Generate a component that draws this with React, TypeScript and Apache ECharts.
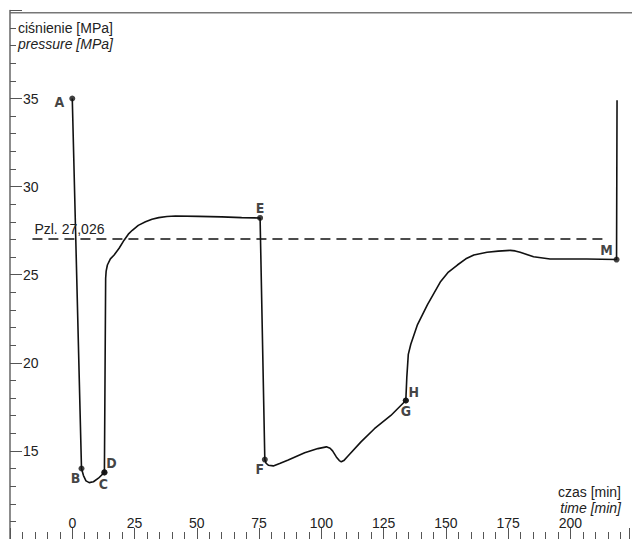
import React, { useEffect, useRef } from "react";
import * as echarts from "echarts";

// time [min]
const times = [
  0, 3.7, 4.5, 5.5, 6.8, 8.5, 10.5, 12.9, 13.4, 13.6, 14.1, 15.3, 16.8, 18.8, 20.8, 22.5, 24.1, 26.5,
  29.4, 32, 34.7, 38, 41.4, 50.7, 60.0, 68.0, 75.4, 77.3, 77.8, 78.7, 80.7, 83.5, 86.7, 93.3, 98.6, 102.0,
  103.5, 104.5, 106.0, 107.2, 108.0, 109.0, 110.6, 115.9, 121.3, 127.9, 133.9, 134.3, 134.9, 135.9, 138.6,
  142.6, 147.9, 151.0, 154.6, 158.0, 161.2, 166.5, 171.0, 175.8, 177.8, 179.8, 185.2, 191.8, 206.5, 218.5,
  218.7,
];
// pressure [MPa]
const pressures = [
  35.0, 14.0, 13.6, 13.3, 13.2, 13.25, 13.45, 13.78, 24.8, 25.2, 25.55, 25.9, 26.12, 26.5, 26.96,
  27.3, 27.52, 27.8, 28.0, 28.15, 28.24, 28.3, 28.33, 28.31, 28.28, 28.24, 28.22, 14.51, 14.3, 14.19,
  14.15, 14.3, 14.48, 14.89, 15.13, 15.23, 15.15, 15.0, 14.66, 14.45, 14.38, 14.45, 14.7, 15.51, 16.26,
  17.01, 17.86, 19.17, 20.48, 21.05, 22.17, 23.3, 24.62, 25.15, 25.55, 25.9, 26.12, 26.27, 26.34, 26.38,
  26.35, 26.27, 26.02, 25.89, 25.89, 25.86, 34.9,
];

// marked points
const pointNames = ["A", "B", "C", "D", "E", "F", "G", "H", "M"];
const pointTimes = [0, 3.7, 12.9, 12.9, 75.4, 77.3, 133.9, 133.9, 218.5];
const pointValues = [35.0, 14.0, 13.78, 13.78, 28.22, 14.51, 17.86, 17.86, 25.86];

// reference level
const refLevel = 27.026;
const refLabel = "Pzl. 27,026";
const refStart = -16;
const refEnd = 214.5;

const xMin = -25;
const xMax = 223.5;
const xInterval = 25;
const yMin = 10;
const yMax = 40;
const yInterval = 5;

const yTitle = ["ciśnienie [MPa]", "pressure [MPa]"];
const xTitle = ["czas [min]", "time [min]"];

const labelOffsets: Record<string, [number, number]> = {
  A: [-13, 3],
  B: [-6, 9],
  C: [-1, 11.5],
  D: [7, -9],
  E: [0, -10],
  F: [-5, 9],
  G: [0, 10],
  H: [8, -9],
  M: [-10, -9.5],
};

const FONT = "'Liberation Sans', Arial, sans-serif";
const BOLD_FONT = "'Liberation Sans Narrow', 'DejaVu Sans Condensed', 'Liberation Sans', sans-serif";

export default function App() {
  const ref = useRef<HTMLDivElement>(null);
  useEffect(() => {
    if (!ref.current) return;
    const chart = echarts.init(ref.current, null, { renderer: "svg" });
    const lineData = times.map((t, i) => [t, pressures[i]]);
    const pts = pointNames.map((n, i) => ({
      name: n,
      value: [pointTimes[i], pointValues[i]],
      label: {
        show: true,
        formatter: n,
        position: "inside",
        offset: labelOffsets[n],
      },
    }));
    chart.setOption({
      animation: false,
      backgroundColor: "#fff",
      grid: { left: 10, right: 0, top: 10.4, bottom: -3, containLabel: false },
      xAxis: {
        type: "value",
        min: xMin,
        max: xMax,
        interval: xInterval,
        axisLine: { show: false, onZero: false },
        splitLine: { show: false },
        axisTick: { show: true, inside: true, length: 11, lineStyle: { color: "#555", width: 1 } },
        minorTick: { show: true, splitNumber: 5, length: 7, lineStyle: { color: "#555", width: 1 } },
        axisLabel: {
          inside: true,
          margin: 9,
          fontSize: 14,
          fontFamily: FONT,
          color: "#222",
          formatter: (v: number) => (v >= 0 && v % 25 === 0 ? String(v) : ""),
        },
      },
      yAxis: {
        type: "value",
        min: yMin,
        max: yMax,
        interval: yInterval,
        axisLine: { show: true, onZero: false, lineStyle: { color: "#666", width: 1.5 } },
        splitLine: { show: false },
        axisTick: { show: true, inside: true, length: 12, lineStyle: { color: "#555", width: 1 } },
        minorTick: { show: true, splitNumber: 5, length: 6, lineStyle: { color: "#555", width: 1 } },
        axisLabel: {
          inside: true,
          margin: 13,
          fontSize: 14,
          fontFamily: FONT,
          color: "#222",
          formatter: (v: number) => (v > yMin && v < yMax ? String(v) : ""),
        },
      },
      series: [
        {
          type: "line",
          data: lineData,
          symbol: "none",
          smooth: false,
          lineStyle: { color: "#111", width: 1.6 },
          markLine: {
            silent: true,
            symbol: "none",
            lineStyle: { color: "#111", type: [10, 6], width: 1.5 },
            label: {
              show: true,
              position: "insideStartTop",
              formatter: refLabel,
              fontSize: 14,
              fontFamily: FONT,
              color: "#222",
              distance: [2, 3],
            },
            data: [[{ coord: [refStart, refLevel] }, { coord: [refEnd, refLevel] }]],
          },
        },
        {
          type: "scatter",
          data: pts,
          symbol: "circle",
          symbolSize: 6,
          itemStyle: { color: "#111" },
          label: {
            show: true,
            fontSize: 14,
            fontWeight: "bold",
            fontFamily: BOLD_FONT,
            color: "#111",
          },
          z: 5,
        },
      ],
      graphic: [
        {
          type: "line",
          shape: { x1: 10, y1: 12.7, x2: 632, y2: 12.7 },
          style: { stroke: "#777", lineWidth: 1.5 },
        },
        {
          type: "text",
          x: 18,
          y: 28.3,
          style: { text: yTitle[0], font: `14px ${FONT}`, fill: "#222", verticalAlign: "middle", align: "left" },
        },
        {
          type: "text",
          x: 18,
          y: 44.3,
          style: { text: yTitle[1], font: `italic 14px ${FONT}`, fill: "#222", verticalAlign: "middle", align: "left" },
        },
        {
          type: "text",
          x: 621,
          y: 491.7,
          style: { text: xTitle[0], font: `14px ${FONT}`, fill: "#222", verticalAlign: "middle", align: "right" },
        },
        {
          type: "text",
          x: 621,
          y: 507.5,
          style: { text: xTitle[1], font: `italic 14px ${FONT}`, fill: "#222", verticalAlign: "middle", align: "right" },
        },
      ],
    });
    return () => chart.dispose();
  }, []);
  return (
    <div
      ref={ref}
      style={{ position: "fixed", left: 0, top: 0, width: 632, height: 539, background: "#fff" }}
    />
  );
}
